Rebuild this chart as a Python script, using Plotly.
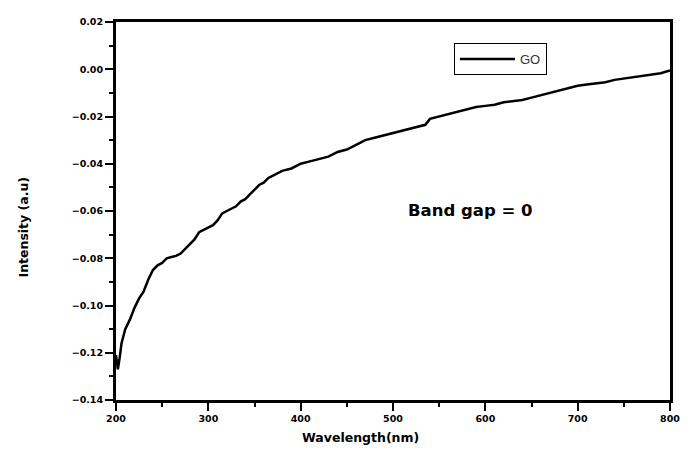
import plotly.graph_objects as go

wavelength = [200, 202, 204, 206, 210, 215, 220, 225, 230, 235, 240, 245, 250, 255, 260, 265,
              270, 275, 280, 285, 290, 295, 300, 305, 310, 315, 320, 325, 330, 335, 340, 345,
              350, 355, 360, 365, 370, 375, 380, 390, 400, 410, 420, 430, 440, 450, 460, 470,
              480, 490, 500, 510, 520, 530, 535, 540, 550, 560, 570, 580, 590, 600, 610, 620,
              630, 640, 650, 660, 670, 680, 690, 700, 710, 720, 730, 740, 750, 760, 770, 780,
              790, 800]
intensity = [-0.121, -0.127, -0.122, -0.116, -0.110, -0.106, -0.101, -0.097, -0.094, -0.089,
             -0.085, -0.083, -0.082, -0.080, -0.0795, -0.079, -0.078, -0.076, -0.074, -0.072,
             -0.069, -0.068, -0.067, -0.066, -0.064, -0.061, -0.060, -0.059, -0.058, -0.056,
             -0.055, -0.053, -0.051, -0.049, -0.048, -0.046, -0.045, -0.044, -0.043, -0.042,
             -0.040, -0.039, -0.038, -0.037, -0.035, -0.034, -0.032, -0.030, -0.029, -0.028,
             -0.027, -0.026, -0.025, -0.024, -0.0235, -0.021, -0.020, -0.019, -0.018, -0.017,
             -0.016, -0.0155, -0.015, -0.014, -0.0135, -0.013, -0.012, -0.011, -0.0102, -0.009,
             -0.008, -0.007, -0.0065, -0.006, -0.0055, -0.0045, -0.004, -0.0035, -0.003, -0.0022,
             -0.0017, -0.0005]

x_ticks = [200, 300, 400, 500, 600, 700, 800]

fig = go.Figure()
fig.add_trace(go.Scatter(x=wavelength, y=intensity, mode="lines", name="GO",
                         line=dict(color="black", width=2.5)))

axis_font = dict(family="DejaVu Sans", size=9.5, color="black", weight="bold")
title_font = dict(family="DejaVu Sans", size=12.5, color="black", weight="bold")
fig.update_layout(
    width=688, height=456,
    margin=dict(l=116, r=8, t=22, b=56),
    plot_bgcolor="white", paper_bgcolor="white",
    showlegend=True,
    legend=dict(x=0.61, y=0.944, xanchor="left", yanchor="top",
                bordercolor="black", borderwidth=1, bgcolor="white",
                itemwidth=55, tracegroupgap=0,
                font=dict(family="Liberation Sans", size=13, color="#333333")),
    xaxis=dict(range=[200, 800], tickvals=x_ticks,
               showline=True, linewidth=3, linecolor="black", mirror=True,
               ticks="outside", ticklen=8, tickwidth=2, tickcolor="black",
               minor=dict(ticks="outside", ticklen=4, tickwidth=2, tickcolor="black", dtick=50),
               showgrid=False, zeroline=False, tickfont=axis_font),
    yaxis=dict(range=[-0.14, 0.02], dtick=0.02, tickformat=".2f",
               showline=True, linewidth=3, linecolor="black", mirror=True,
               ticks="outside", ticklen=8, tickwidth=2, tickcolor="black",
               minor=dict(ticks="outside", ticklen=4, tickwidth=2, tickcolor="black", dtick=0.01),
               showgrid=False, zeroline=False, tickfont=axis_font),
    annotations=[
        dict(x=0.640, y=0.5026, xref="paper", yref="paper", text="Band gap = 0",
             xanchor="center", yanchor="middle",
             showarrow=False, font=dict(family="DejaVu Sans", size=16.5, color="black", weight="bold")),
        dict(x=0.4415, y=-0.098, xref="paper", yref="paper", text="Wavelength(nm)",
             xanchor="center", yanchor="middle", showarrow=False, font=title_font),
        dict(x=-0.1667, y=0.458, xref="paper", yref="paper", text="Intensity (a.u)",
             xanchor="center", yanchor="middle",
             textangle=-90, showarrow=False, font=title_font),
    ],
)

fig.write_html("out.html")
